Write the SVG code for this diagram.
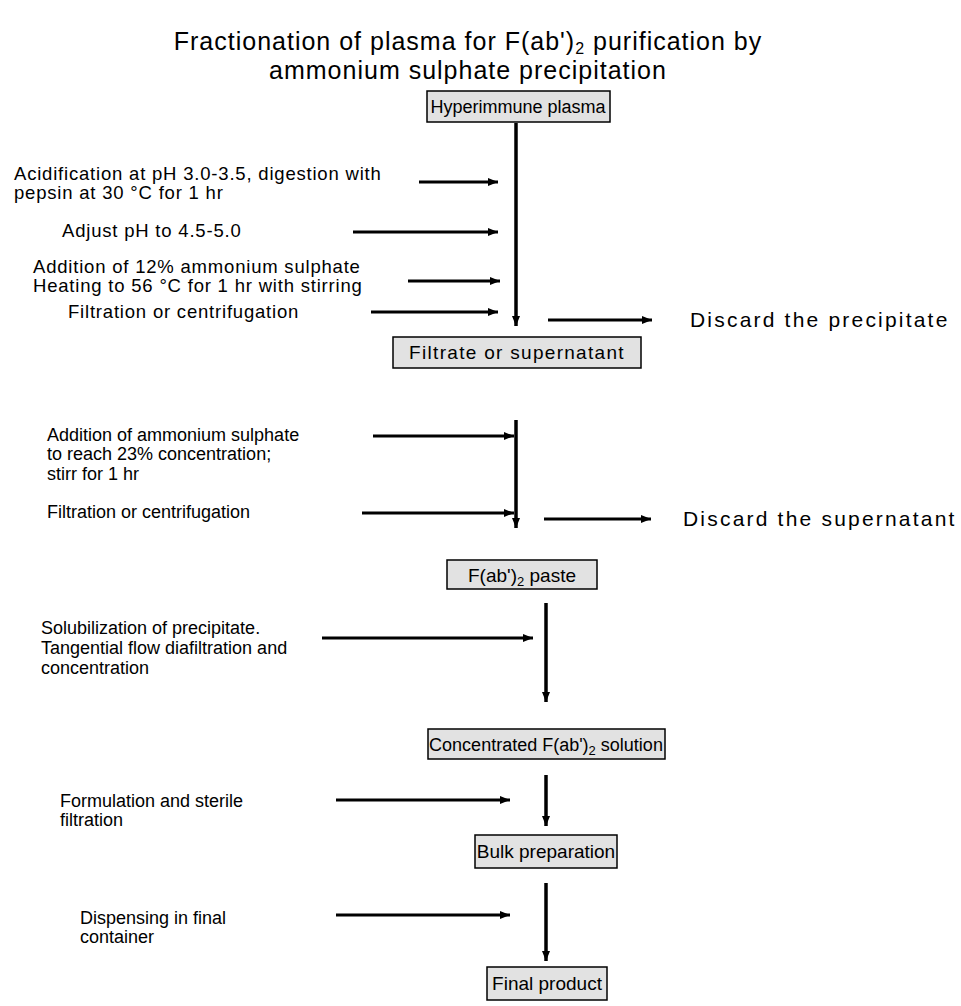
<svg xmlns="http://www.w3.org/2000/svg" width="961" height="1006" viewBox="0 0 961 1006">
<defs>
<marker id="ah" viewBox="0 0 10 8" refX="10" refY="4" markerWidth="12" markerHeight="8" markerUnits="userSpaceOnUse" orient="auto">
<path d="M0,0 L10,4 L0,8 Z" fill="#000"/>
</marker>
</defs>
<style>
text{font-family:"Liberation Sans",Arial,sans-serif;fill:#000}
.t{font-size:25px;letter-spacing:1px}
.a{font-size:18.5px;letter-spacing:0.8px}
.b{font-size:18px}
.d{font-size:21px;letter-spacing:2.2px}
.n{font-size:19px}
.box{fill:#e2e2e2;stroke:#000;stroke-width:1.5}
.ln{stroke:#000;stroke-width:3;fill:none;marker-end:url(#ah)}
.vl{stroke:#000;stroke-width:3.5;fill:none;marker-end:url(#ah)}
</style>
<rect width="961" height="1006" fill="#fff"/>
<g id="title">
<text class="t" x="468" y="50" text-anchor="middle">Fractionation of plasma for F(ab')<tspan font-size="16" dy="4">2</tspan><tspan dy="-4"> purification by</tspan></text>
<text class="t" x="468" y="79" text-anchor="middle">ammonium sulphate precipitation</text>
</g>
<g id="n1"><rect class="box" x="427" y="91" width="183" height="31"/><text x="518" y="113" text-anchor="middle" font-size="18">Hyperimmune plasma</text></g>
<g id="n2"><rect class="box" x="393" y="337" width="248" height="31"/><text x="517" y="359" text-anchor="middle" font-size="19" letter-spacing="1.3">Filtrate or supernatant</text></g>
<g id="n3"><rect class="box" x="447" y="560" width="150" height="29"/><text class="n" x="522" y="582" text-anchor="middle">F(ab')<tspan font-size="13" dy="4">2</tspan><tspan dy="-4"> paste</tspan></text></g>
<g id="n4"><rect class="box" x="428" y="729" width="237" height="30"/><text x="546" y="751" text-anchor="middle" font-size="18">Concentrated F(ab')<tspan font-size="13" dy="4">2</tspan><tspan dy="-4"> solution</tspan></text></g>
<g id="n5"><rect class="box" x="475" y="835" width="142" height="33"/><text class="n" x="546" y="858" text-anchor="middle">Bulk preparation</text></g>
<g id="n6"><rect class="box" x="487" y="967" width="120" height="33"/><text class="n" x="547" y="990" text-anchor="middle">Final product</text></g>
<g id="labels">
<text class="a" x="14" y="180">Acidification at pH 3.0-3.5, digestion with</text>
<text class="a" x="14" y="199">pepsin at 30 °C for 1 hr</text>
<text class="a" x="62" y="237">Adjust pH to 4.5-5.0</text>
<text class="a" x="33" y="273">Addition of 12% ammonium sulphate</text>
<text class="a" x="33" y="292">Heating to 56 °C for 1 hr with stirring</text>
<text class="a" x="68" y="318">Filtration or centrifugation</text>
<text class="d" x="690" y="327">Discard the precipitate</text>
<text class="b" x="47" y="441">Addition of ammonium sulphate</text>
<text class="b" x="47" y="460">to reach 23% concentration;</text>
<text class="b" x="47" y="480">stirr for 1 hr</text>
<text class="b" x="47" y="518">Filtration or centrifugation</text>
<text class="d" x="683" y="526">Discard the supernatant</text>
<text class="b" x="41" y="634">Solubilization of precipitate.</text>
<text class="b" x="41" y="654">Tangential flow diafiltration and</text>
<text class="b" x="41" y="674">concentration</text>
<text class="b" x="60" y="807">Formulation and sterile</text>
<text class="b" x="60" y="826">filtration</text>
<text class="b" x="80" y="924">Dispensing in final</text>
<text class="b" x="80" y="943">container</text>
</g>
<g id="connectors">
<line class="vl" x1="516" y1="123" x2="516" y2="326"/>
<line class="vl" x1="516" y1="420" x2="516" y2="528"/>
<line class="vl" x1="546" y1="603" x2="546" y2="702"/>
<line class="vl" x1="546" y1="775" x2="546" y2="826"/>
<line class="vl" x1="546" y1="883" x2="546" y2="961"/>
<line class="ln" x1="419" y1="182" x2="498" y2="182"/>
<line class="ln" x1="353" y1="232" x2="498" y2="232"/>
<line class="ln" x1="408" y1="281" x2="500" y2="281"/>
<line class="ln" x1="371" y1="312" x2="498" y2="312"/>
<line class="ln" x1="548" y1="320" x2="652" y2="320"/>
<line class="ln" x1="373" y1="436" x2="514" y2="436"/>
<line class="ln" x1="362" y1="513" x2="514" y2="513"/>
<line class="ln" x1="544" y1="519" x2="651" y2="519"/>
<line class="ln" x1="322" y1="638" x2="533" y2="638"/>
<line class="ln" x1="336" y1="800" x2="510" y2="800"/>
<line class="ln" x1="336" y1="915" x2="510" y2="915"/>
</g>
</svg>
